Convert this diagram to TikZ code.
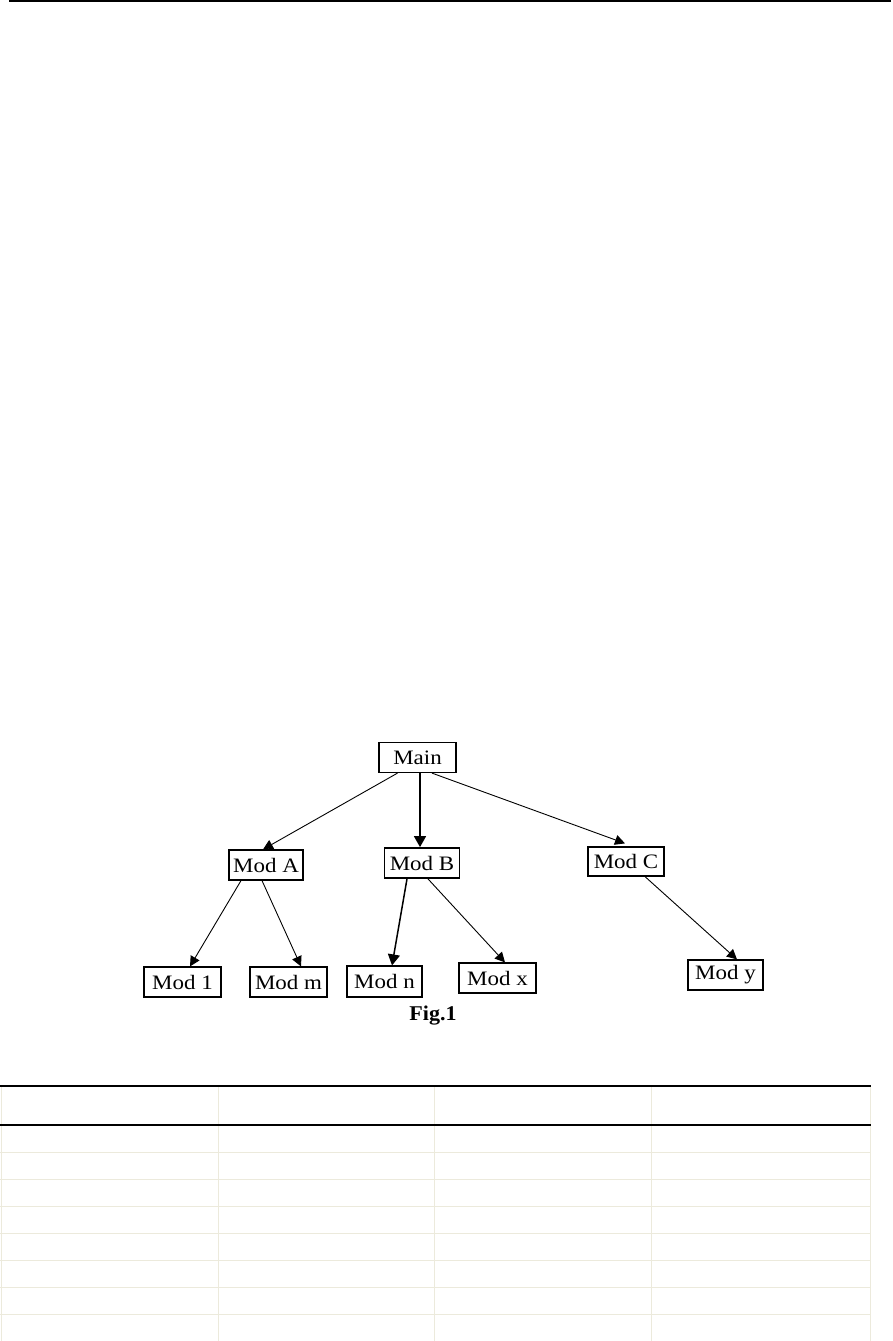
\documentclass[tikz,border=0pt]{standalone}
\usepackage{fontspec}
\setmainfont{Liberation Serif}
\usepackage{graphicx}
\usetikzlibrary{arrows.meta}
\definecolor{gridc}{RGB}{236,234,220}
\newcommand{\wtxt}[1]{\scalebox{1.12}[1]{#1}}
\tikzset{
 mod/.style={draw, line width=1.2pt, inner sep=0pt, minimum width=76pt, minimum height=30pt, font=\fontsize{20.5}{20.5}\selectfont},
 modthick/.style={mod, line width=1.8pt},
 conn/.style={line width=0.9pt, -{Triangle[length=10pt,width=10pt]}},
 connthick/.style={line width=1.5pt, -{Triangle[length=11pt,width=12pt]}},
 blackrule/.style={line width=1.6pt},
 gridline/.style={draw=gridc, line width=1pt},
 caption/.style={font=\fontsize{21}{21}\selectfont\bfseries, inner sep=0pt},
}
\begin{document}
\begin{tikzpicture}[x=1pt,y=-1pt]
\useasboundingbox (0,0) rectangle (893,1341);
% top page rule
\draw[blackrule] (9,1) -- (891,1);

% nodes
\node[mod, minimum width=77pt] (main) at (417.5,757.5) {\wtxt{Main}};
\node[mod, minimum width=74pt] (modA) at (266,865) {\wtxt{Mod A}};
\node[modthick, minimum width=75pt] (modB) at (422,863) {\wtxt{Mod B}};
\node[mod, minimum width=76pt, minimum height=29pt] (modC) at (626,861.5) {\wtxt{Mod C}};
\node[mod, minimum width=77pt] (mod1) at (182.5,982) {\wtxt{Mod 1}};
\node[mod, minimum width=77pt] (modm) at (288.5,982) {\wtxt{Mod m}};
\node[mod, minimum width=75pt, minimum height=31pt] (modn) at (384.5,981.5) {\wtxt{Mod n}};
\node[mod, minimum width=77pt] (modx) at (497.5,978) {\wtxt{Mod x}};
\node[mod, minimum width=75pt] (mody) at (725.5,975) {\wtxt{Mod y}};
\node[caption] (fig) at (433,1016) {\scalebox{1.05}[1]{Fig.1}};

% connectors
\draw[conn] ([xshift=-20pt]main.south) -- ([xshift=-3pt]modA.north);
\draw[connthick] ([xshift=2.5pt]main.south) -- ([xshift=-2pt]modB.north);
\draw[conn] ([xshift=14.5pt]main.south) -- ([xshift=-1pt,yshift=3pt]modC.north);
\draw[conn] ([xshift=-25pt]modA.south) -- ([xshift=7.5pt]mod1.north);
\draw[conn] ([xshift=-4pt]modA.south) -- ([xshift=12.5pt]modm.north);
\draw[connthick] ([xshift=-15pt]modB.south) -- ([xshift=7.5pt]modn.north);
\draw[conn] ([xshift=6pt]modB.south) -- ([xshift=7.5pt]modx.north);
\draw[conn] ([xshift=19pt]modC.south) -- ([xshift=11.5pt]mody.north);

% table grid
\foreach \yy in {1152,1179,1206,1233,1260,1287,1314}
  \draw[gridline] (0,\yy) -- (870,\yy);
\foreach \xx in {1,218,434,651,870}
  \draw[gridline] (\xx,1086) -- (\xx,1341);
\draw[blackrule] (0,1086) -- (871,1086);
\draw[blackrule] (0,1125) -- (871,1125);
\end{tikzpicture}
\end{document}
